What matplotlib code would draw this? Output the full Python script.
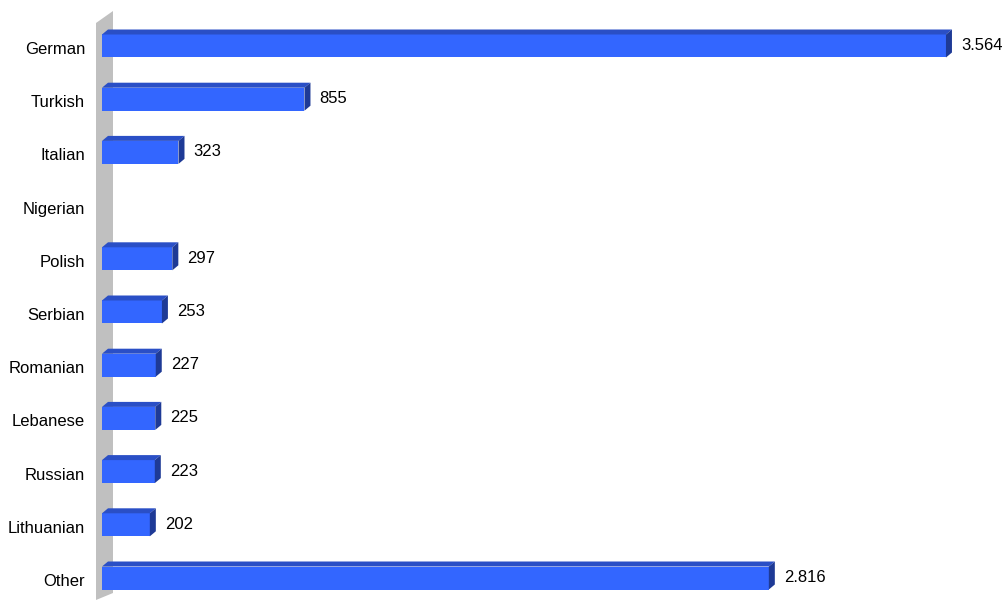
import numpy as np
import matplotlib
matplotlib.use("Agg")
import matplotlib.pyplot as plt
from matplotlib.patches import Polygon

categories = ["German", "Turkish", "Italian", "Nigerian", "Polish", "Serbian",
              "Romanian", "Lebanese", "Russian", "Lithuanian", "Other"]
values = [3564, 855, 323, None, 297, 253, 227, 225, 223, 202, 2816]
value_labels = ["3.564", "855", "323", "", "297", "253", "227", "225", "223", "202", "2.816"]

W, H = 1008, 600
fig = plt.figure(figsize=(W / 100, H / 100), dpi=100)
plt.rcParams["font.family"] = ["Liberation Sans", "DejaVu Sans"]

# axes spans from the category origin to the right edge
x0_px = 102
ax = fig.add_axes([x0_px / W, 0, 1 - x0_px / W, 1])
ax.set_zorder(2)
ax.patch.set_visible(False)
px_per_unit = 0.2368
xmax = (W - x0_px) / px_per_unit
ax.set_xlim(0, xmax)
row_px = 53.2
first_px = 46
ax.set_ylim((H - first_px) / row_px, -first_px / row_px)
ax.axis("off")

# side wall
wall = Polygon([(96 / W, 0), (96 / W, 1 - 23 / H), (113 / W, 1 - 11 / H), (113 / W, 1 - 593 / H)],
               closed=True, transform=fig.transFigure, facecolor="#c0c0c0", edgecolor="none", zorder=0)
fig.patches.append(wall)

front_c = "#3366ff"
top_c = "#2a4fc6"
side_c = "#1e3a96"
bar_h_px = 23
bar_h = bar_h_px / row_px
dx = 6 / px_per_unit
dy = 5 / row_px

for i, (v, lab) in enumerate(zip(values, value_labels)):
    if v is None:
        continue
    ax.barh(i, v, height=bar_h, color=front_c, edgecolor="none", zorder=3)
    yt = i - bar_h / 2
    yb = i + bar_h / 2
    ax.add_patch(Polygon([(0, yt), (v, yt), (v + dx, yt - dy), (dx, yt - dy)],
                         closed=True, facecolor=top_c, edgecolor="none", zorder=3))
    ax.add_patch(Polygon([(v, yt), (v + dx, yt - dy), (v + dx, yb - dy), (v, yb)],
                         closed=True, facecolor=side_c, edgecolor="none", zorder=3))
    ax.text(v + dx + 9 / px_per_unit, i - 0.5 / row_px, lab, ha="left", va="center",
            fontsize=12, color="black")

for i, c in enumerate(categories):
    ax.text(-17 / px_per_unit, i + 3.5 / row_px, c, ha="right", va="center", fontsize=12,
            color="black", clip_on=False)

fig.savefig("out.png", dpi=100)
